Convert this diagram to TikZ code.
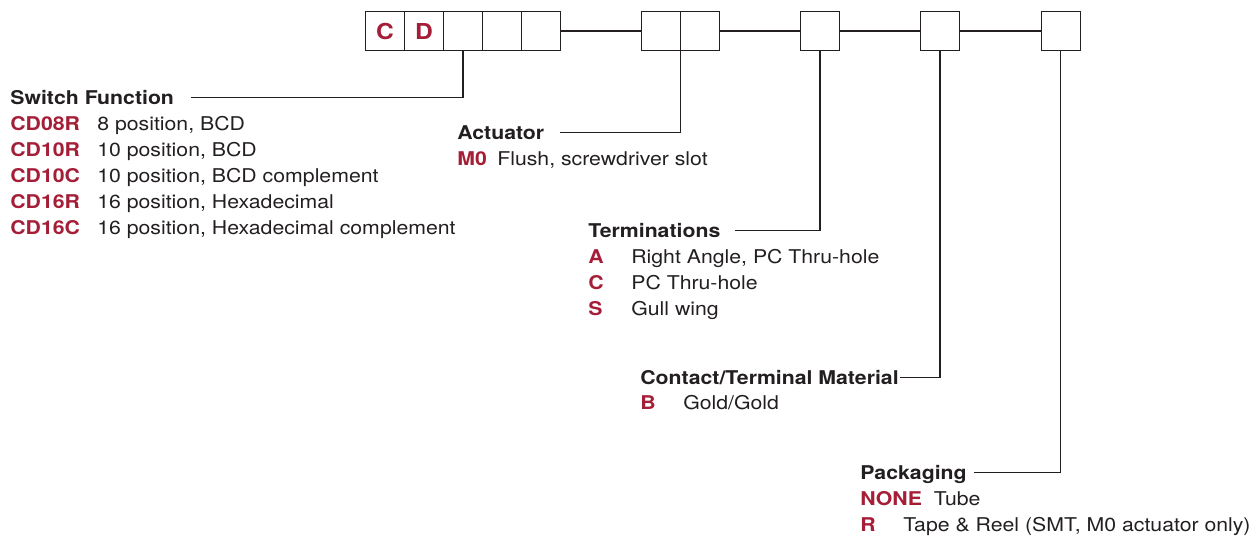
\documentclass[tikz,border=0pt]{standalone}
\usepackage{fontspec}
\setmainfont[FakeStretch=1.12]{TeX Gyre Heros}
\usepackage{xcolor}
\definecolor{rojo}{RGB}{165,30,55}
\definecolor{texto}{RGB}{35,31,32}
\usepackage{tikz}
\usetikzlibrary{positioning}
\newcommand{\codigo}[1]{\textbf{\color{rojo}#1}}

\begin{document}
\begin{tikzpicture}[
  x=0.02cm, y=-0.02cm,
  casilla/.style={rectangle, draw=texto, line width=0.7pt, minimum width=0.78cm, minimum height=0.77cm, inner sep=0pt, outer sep=0pt, font=\fontsize{12.5}{15}\selectfont\bfseries, text=rojo},
  titulo/.style={anchor=base west, inner sep=0pt, text height=0.72em, text depth=0pt, font=\fontsize{10.8}{14.8}\selectfont\bfseries, text=texto},
  lista/.style={anchor=base west, inner sep=0pt, text=texto, font=\fontsize{10.8}{14.8}\selectfont},
  guia/.style={draw=texto, line width=0.7pt}
]
  \useasboundingbox (0,0) rectangle (1260,535);

  % codigo de pedido
  \node[casilla] (c1) at (385,31) {C};
  \node[casilla, right=0pt of c1] (c2) {D};
  \node[casilla, right=0pt of c2] (c3) {};
  \node[casilla, right=0pt of c3] (c4) {};
  \node[casilla, right=0pt of c4] (c5) {};
  \node[casilla, right=1.62cm of c5] (a1) {};
  \node[casilla, right=0pt of a1] (a2) {};
  \node[casilla, right=1.62cm of a2] (t1) {};
  \node[casilla, right=1.62cm of t1] (m1) {};
  \node[casilla, right=1.64cm of m1] (p1) {};

  \draw[guia] (c5) -- (a1);
  \draw[guia] (a2) -- (t1);
  \draw[guia] (t1) -- (m1);
  \draw[guia] (m1) -- (p1);

  % opciones
  \node[titulo] (sf) at (10,104) {Switch Function};
  \node[lista] (sfl) at (10,130) {\begin{tabular}[t]{@{}p{1.74cm}@{}l@{}}
    \codigo{CD08R} & 8 position, BCD\\
    \codigo{CD10R} & 10 position, BCD\\
    \codigo{CD10C} & 10 position, BCD complement\\
    \codigo{CD16R} & 16 position, Hexadecimal\\
    \codigo{CD16C} & 16 position, Hexadecimal complement
  \end{tabular}};

  \node[titulo] (act) at (457,139) {Actuator};
  \node[lista] (actl) at (457,165) {\begin{tabular}[t]{@{}p{0.8cm}@{}l@{}}
    \codigo{M0} & Flush, screwdriver slot
  \end{tabular}};

  \node[titulo] (ter) at (588,237) {Terminations};
  \node[lista] (terl) at (588,263) {\begin{tabular}[t]{@{}p{0.86cm}@{}l@{}}
    \codigo{A} & Right Angle, PC Thru-hole\\
    \codigo{C} & PC Thru-hole\\
    \codigo{S} & Gull wing
  \end{tabular}};

  \node[titulo] (con) at (640,384) {Contact/Terminal Material};
  \node[lista] (conl) at (640,409) {\begin{tabular}[t]{@{}p{0.86cm}@{}l@{}}
    \codigo{B} & Gold/Gold
  \end{tabular}};

  \node[titulo] (pac) at (860,479) {Packaging};
  \node[lista] (pacl) at (860,505) {\begin{tabular}[t]{@{}p{0.86cm}@{}l@{}}
    \multicolumn{2}{@{}l@{}}{\codigo{NONE}\hspace{0.24cm}Tube}\\
    \codigo{R} & Tape \& Reel (SMT, M0 actuator only)
  \end{tabular}};

  % lineas guia
  \draw[guia] (c3.south) |- ([xshift=0.34cm]sf.east);
  \draw[guia] (a1.south east) |- ([xshift=0.3cm]act.east);
  \draw[guia] (t1.south) |- ([xshift=0.28cm]ter.east);
  \draw[guia] (m1.south) |- ([xshift=0.02cm]con.east);
  \draw[guia] (p1.south) |- ([xshift=0.14cm]pac.east);
\end{tikzpicture}
\end{document}
